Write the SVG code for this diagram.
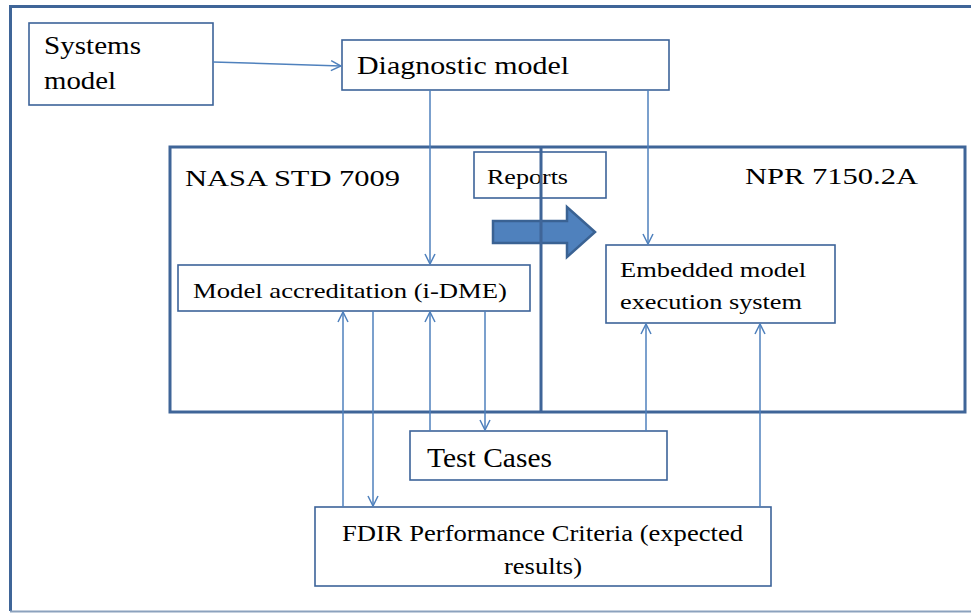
<svg xmlns="http://www.w3.org/2000/svg" width="971" height="613" viewBox="0 0 971 613">
<style>
.box{fill:#fff;stroke:#3C6399;stroke-width:1.6}
.frame{fill:none;stroke:#3F6598;stroke-width:3}
.c{fill:none;stroke:#4F81BD;stroke-width:1.5}
text{fill:#000;font-family:'Liberation Serif','Times New Roman',serif}
</style>
<defs>
<marker id="ah" viewBox="0 0 12 12" refX="11" refY="6" markerWidth="12" markerHeight="12" markerUnits="userSpaceOnUse" orient="auto">
<path d="M1,1 L11,6 L1,11" fill="none" stroke="#4F81BD" stroke-width="1.5"/>
</marker>
</defs>
<rect x="0" y="0" width="971" height="613" fill="#fff"/>
<g id="outer-frame">
<path d="M975,6.5 H10.5 V611" fill="none" stroke="#3F6598" stroke-width="3"/>
<line x1="10" y1="611.5" x2="971" y2="611.5" stroke="#8CA2BD" stroke-width="2"/>
</g>
<g id="nasa-std">
<rect x="170" y="147" width="795" height="265" class="frame"/>
<text x="185" y="186" font-size="24" textLength="215" lengthAdjust="spacingAndGlyphs">NASA STD 7009</text>
</g>
<g id="npr">
<text x="745" y="184" font-size="24" textLength="173" lengthAdjust="spacingAndGlyphs">NPR 7150.2A</text>
</g>
<g id="systems-model">
<rect x="29" y="23" width="184" height="82" class="box"/>
<text x="44" y="54" font-size="25" textLength="97" lengthAdjust="spacingAndGlyphs">Systems</text>
<text x="44" y="89" font-size="25" textLength="72" lengthAdjust="spacingAndGlyphs">model</text>
</g>
<g id="diagnostic-model">
<rect x="342" y="40" width="327" height="50" class="box"/>
<text x="357" y="74" font-size="25" textLength="212" lengthAdjust="spacingAndGlyphs">Diagnostic model</text>
</g>
<g id="reports">
<rect x="474" y="152" width="132" height="46" class="box"/>
<text x="487" y="184" font-size="21" textLength="81" lengthAdjust="spacingAndGlyphs">Reports</text>
</g>
<g id="transfer-arrow">
<path d="M493,221 H567 V207 L595,232 L567,257 V243 H493 Z" fill="#4F81BD" stroke="#3A6293" stroke-width="2.5"/>
</g>
<g id="divider">
<line x1="541" y1="147" x2="541" y2="412" class="frame"/>
</g>
<g id="model-accreditation">
<rect x="178" y="265" width="352" height="46" class="box"/>
<text x="193" y="298" font-size="21" textLength="314" lengthAdjust="spacingAndGlyphs">Model accreditation (i-DME)</text>
</g>
<g id="embedded">
<rect x="606" y="245" width="229" height="78" class="box"/>
<text x="620" y="277" font-size="21" textLength="186" lengthAdjust="spacingAndGlyphs">Embedded model</text>
<text x="620" y="309" font-size="21" textLength="182" lengthAdjust="spacingAndGlyphs">execution system</text>
</g>
<g id="test-cases">
<rect x="410" y="431" width="257" height="49" class="box"/>
<text x="427" y="467" font-size="27" textLength="125" lengthAdjust="spacingAndGlyphs">Test Cases</text>
</g>
<g id="fdir">
<rect x="315" y="507" width="456" height="79" class="box"/>
<text x="342" y="541" font-size="24" textLength="401" lengthAdjust="spacingAndGlyphs">FDIR Performance Criteria (expected</text>
<text x="504" y="574" font-size="24" textLength="78" lengthAdjust="spacingAndGlyphs">results)</text>
</g>
<g id="connectors">
<path d="M213,62 L341,66" class="c" marker-end="url(#ah)"/>
<path d="M430,90 V264" class="c" marker-end="url(#ah)"/>
<path d="M648,90 V244" class="c" marker-end="url(#ah)"/>
<path d="M343,507 V312" class="c" marker-end="url(#ah)"/>
<path d="M373,311 V506" class="c" marker-end="url(#ah)"/>
<path d="M430,431 V312" class="c" marker-end="url(#ah)"/>
<path d="M485,311 V430" class="c" marker-end="url(#ah)"/>
<path d="M646,431 V324" class="c" marker-end="url(#ah)"/>
<path d="M760,507 V324" class="c" marker-end="url(#ah)"/>
</g>
</svg>
